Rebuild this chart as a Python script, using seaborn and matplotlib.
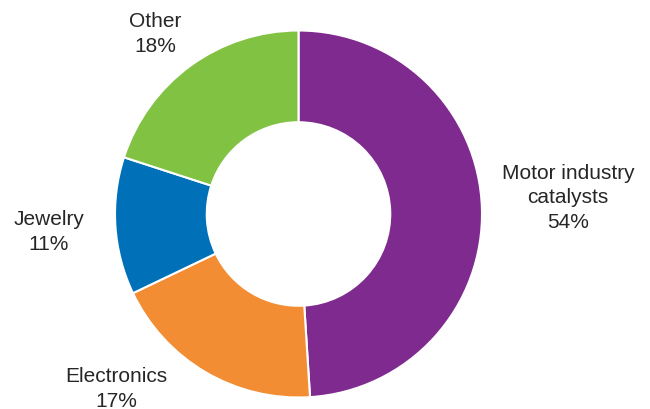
import matplotlib
matplotlib.use("Agg")
import matplotlib.pyplot as plt
import seaborn as sns

# Data (drawn wedge shares; printed labels as shown)
categories = ["Motor industry\ncatalysts", "Electronics", "Jewelry", "Other"]
drawn_shares = [49.0, 18.9, 12.1, 20.0]
pct_labels = ["54%", "17%", "11%", "18%"]
colors = ["#7F2A8E", "#F38D34", "#0070B9", "#81C242"]

sns.set_theme(style="white")
plt.rcParams["font.family"] = ["Liberation Sans", "DejaVu Sans"]

fig = plt.figure(figsize=(6.5, 4.1), dpi=100)
ax = fig.add_axes([0, 0, 1, 1])

H = 410
cx, cy, r = 298.5, H - 215, 183.5
ax.pie(drawn_shares, colors=colors, startangle=90, counterclock=False,
       center=(cx, cy), radius=r,
       wedgeprops=dict(width=r * 0.5, edgecolor="white", linewidth=1.5))
ax.set_xlim(0, 650)
ax.set_ylim(0, H)
ax.set_aspect("equal")
ax.axis("off")

label_pos = [(568, 198), (116, 389), (49, 232), (155, 34)]
for cat, pct, (x, y) in zip(categories, pct_labels, label_pos):
    ax.text(x, H - y, f"{cat}\n{pct}", ha="center", va="center",
            fontsize=15, color="#262626", linespacing=1.36)

fig.savefig("out.png", dpi=100)
